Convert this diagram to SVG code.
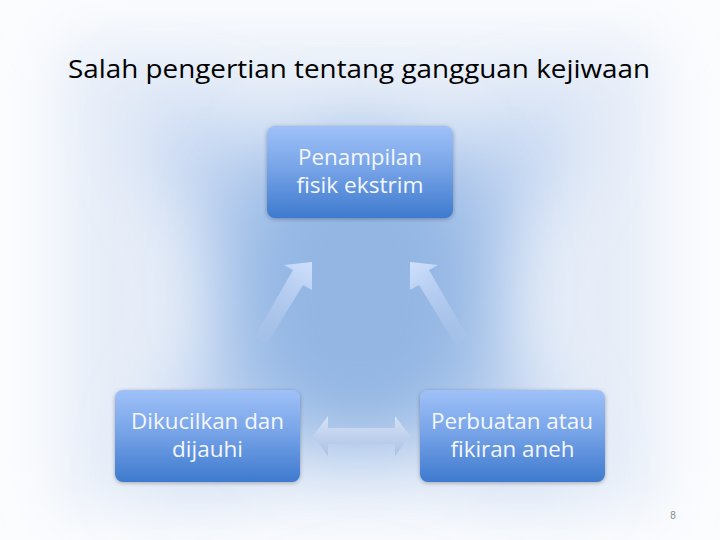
<svg xmlns="http://www.w3.org/2000/svg" width="720" height="540" viewBox="0 0 720 540">
<defs>
<style>
.box{stroke:none}
.lbl{font-family:"Open Sans","Noto Sans","DejaVu Sans",sans-serif;font-size:21px;fill:#f4f7ff;text-anchor:middle}
.title{font-family:"Open Sans","Noto Sans",sans-serif;font-size:26px;fill:#000000}
</style>
<linearGradient id="bg" x1="0" y1="0" x2="0" y2="1">
<stop offset="0" stop-color="#9fc1f8"/>
<stop offset="0.45" stop-color="#78a4e8"/>
<stop offset="1" stop-color="#3e7ace"/>
</linearGradient>
<linearGradient id="arrL" gradientUnits="userSpaceOnUse" x1="310" y1="262" x2="262" y2="342">
<stop offset="0" stop-color="#cfe0fd" stop-opacity="1"/>
<stop offset="1" stop-color="#b4c8ec" stop-opacity="0.2"/>
</linearGradient>
<linearGradient id="arrR" gradientUnits="userSpaceOnUse" x1="412" y1="262" x2="460" y2="342">
<stop offset="0" stop-color="#cfe0fd" stop-opacity="1"/>
<stop offset="1" stop-color="#b4c8ec" stop-opacity="0.2"/>
</linearGradient>
<linearGradient id="arrH" x1="0" y1="0" x2="0" y2="1">
<stop offset="0" stop-color="#dbe6f8"/>
<stop offset="1" stop-color="#a9bfe4"/>
</linearGradient>
<filter id="blur1" x="-50%" y="-50%" width="200%" height="200%"><feGaussianBlur stdDeviation="40"/></filter>
<filter id="blur2" x="-50%" y="-50%" width="200%" height="200%"><feGaussianBlur stdDeviation="30"/></filter>
<filter id="sh" x="-20%" y="-20%" width="140%" height="140%"><feGaussianBlur in="SourceAlpha" stdDeviation="2"/><feOffset dy="1"/><feComponentTransfer><feFuncA type="linear" slope="0.3"/></feComponentTransfer><feMerge><feMergeNode/><feMergeNode in="SourceGraphic"/></feMerge></filter>
</defs>
<rect width="720" height="540" fill="#fbfcfe"/>
<g id="background">
<rect x="60" y="40" width="600" height="470" fill="#e6edf8" filter="url(#blur2)"/>
<polygon points="140,100 360,190 580,100 480,300 570,480 360,410 150,480 240,300" fill="#b3cbee" filter="url(#blur1)"/>
<ellipse cx="360" cy="290" rx="125" ry="155" fill="#93b6e3" filter="url(#blur1)"/>
</g>
<text class="title" x="359" y="78" text-anchor="middle" textLength="582" lengthAdjust="spacingAndGlyphs">Salah pengertian tentang gangguan kejiwaan</text>
<g id="connectors">
<path d="M255,336 L293,270 L284,265 L312,262 L312,290 L303,285 L266,345 Z" fill="url(#arrL)"/>
<path d="M467,336 L429,270 L438,265 L410,262 L410,290 L419,285 L456,345 Z" fill="url(#arrR)"/>
<path d="M313,436 L328,416 L328,428 L395,428 L395,416 L410,436 L395,456 L395,444 L328,444 L328,456 Z" fill="url(#arrH)" opacity="0.9"/>
</g>
<g id="node-top">
<rect class="box" x="267" y="126" width="186" height="92" rx="8" fill="url(#bg)" filter="url(#sh)"/>
<text class="lbl" x="360" y="165" textLength="124" lengthAdjust="spacingAndGlyphs">Penampilan</text>
<text class="lbl" x="360" y="193" textLength="127" lengthAdjust="spacingAndGlyphs">fisik ekstrim</text>
</g>
<g id="node-left">
<rect class="box" x="115" y="390" width="185" height="92" rx="8" fill="url(#bg)" filter="url(#sh)"/>
<text class="lbl" x="207.5" y="429" textLength="153" lengthAdjust="spacingAndGlyphs">Dikucilkan dan</text>
<text class="lbl" x="207.5" y="457" textLength="71" lengthAdjust="spacingAndGlyphs">dijauhi</text>
</g>
<g id="node-right">
<rect class="box" x="420" y="390" width="185" height="92" rx="8" fill="url(#bg)" filter="url(#sh)"/>
<text class="lbl" x="512" y="429" textLength="162" lengthAdjust="spacingAndGlyphs">Perbuatan atau</text>
<text class="lbl" x="512.5" y="457" textLength="124" lengthAdjust="spacingAndGlyphs">fikiran aneh</text>
</g>
<text x="673" y="519" font-family="Liberation Sans, sans-serif" font-size="10" fill="#8a8a8a" text-anchor="middle">8</text>
</svg>
